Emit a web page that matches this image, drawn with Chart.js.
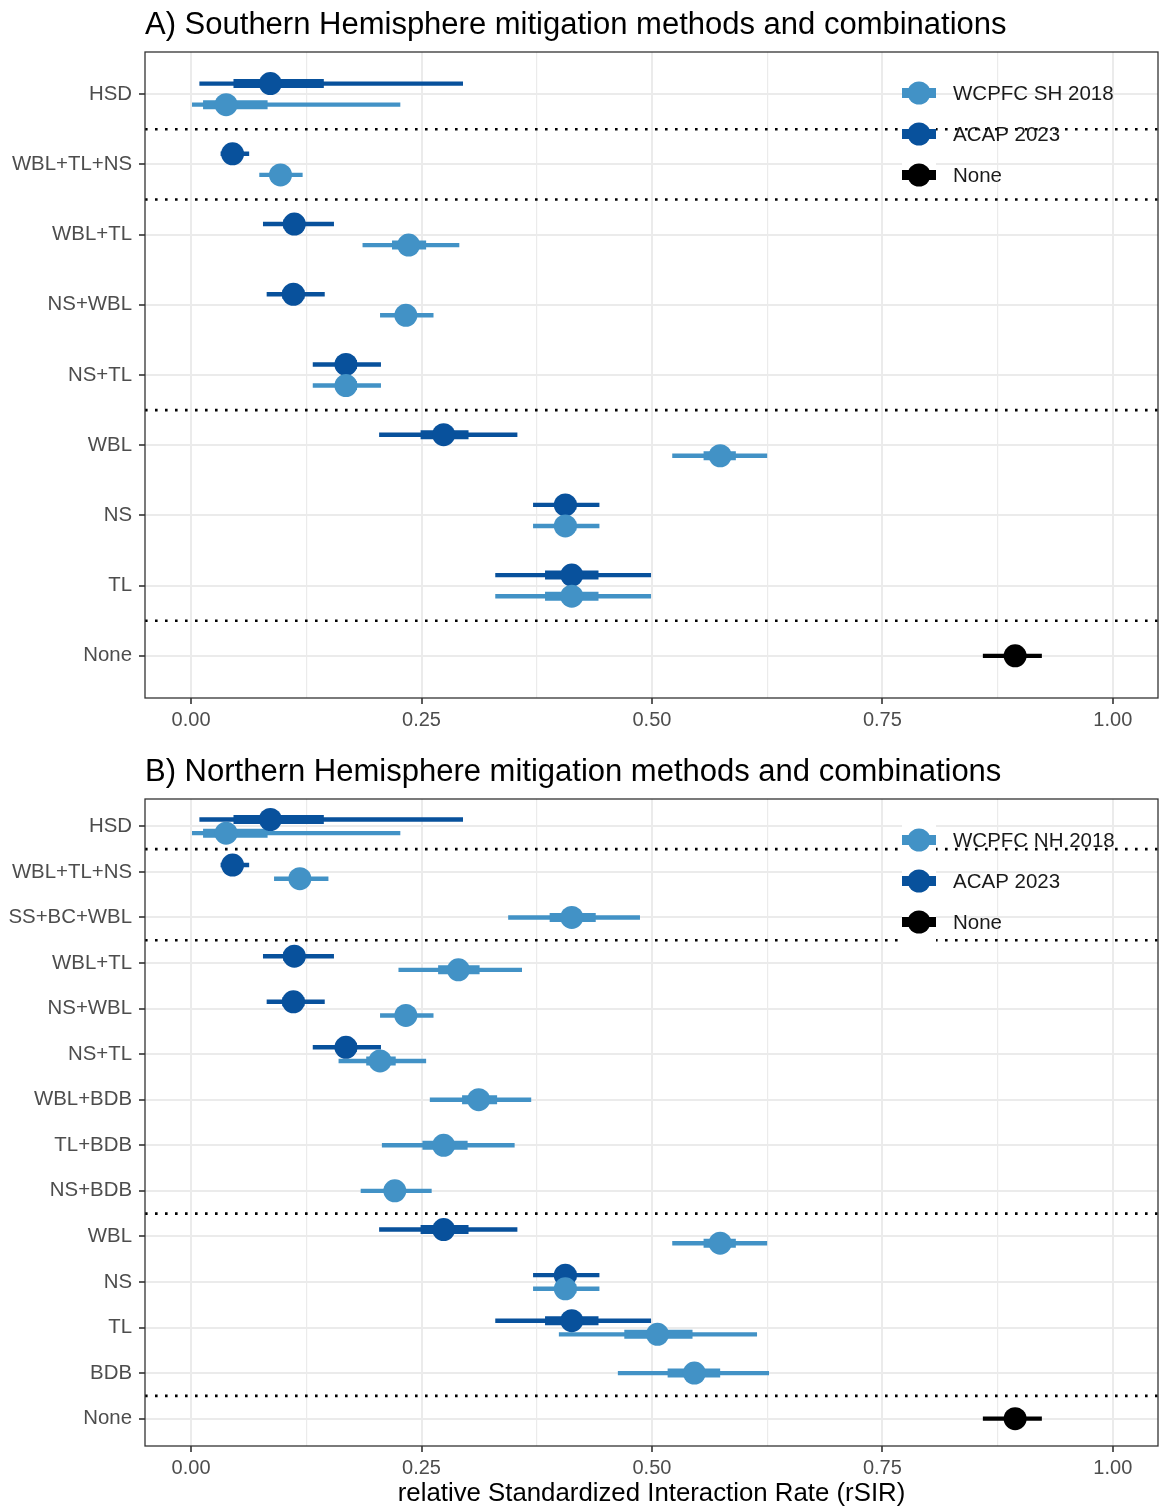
<!DOCTYPE html>
<html>
<head>
<meta charset="utf-8">
<script src="https://cdn.jsdelivr.net/npm/chart.js@4.4.1/dist/chart.umd.min.js"></script>
<style>
  html, body { margin: 0; padding: 0; background: #ffffff; }
  #wrap { position: relative; width: 1159px; height: 1508px; }
  canvas { position: absolute; left: 0; }
  #sh { top: 0; }
  #nh { top: 745px; }
</style>
</head>
<body>
<div id="wrap">
  <canvas id="sh" width="1159" height="745"></canvas>
  <canvas id="nh" width="1159" height="763"></canvas>
</div>
<script>
// ---- Categories, top to bottom ----
const shCategories = ['HSD', 'WBL+TL+NS', 'WBL+TL', 'NS+WBL', 'NS+TL', 'WBL', 'NS', 'TL', 'None'];
const nhCategories = ['HSD', 'WBL+TL+NS', 'SS+BC+WBL', 'WBL+TL', 'NS+WBL', 'NS+TL', 'WBL+BDB',
                      'TL+BDB', 'NS+BDB', 'WBL', 'NS', 'TL', 'BDB', 'None'];

// ---- rSIR per category: [estimate, lower 95%, upper 95%, lower 50%, upper 50%] (null = not assessed) ----
const acapSH = [
  [0.086, 0.009, 0.295, 0.046, 0.144],
  [0.045, 0.032, 0.063, 0.036, 0.055],
  [0.112, 0.078, 0.155, 0.100, 0.123],
  [0.111, 0.082, 0.145, 0.099, 0.123],
  [0.168, 0.132, 0.206, 0.157, 0.180],
  [0.274, 0.204, 0.354, 0.249, 0.301],
  [0.406, 0.371, 0.443, 0.395, 0.418],
  [0.413, 0.330, 0.499, 0.384, 0.442],
  null
];
const wcpfcSH = [
  [0.038, 0.001, 0.227, 0.013, 0.083],
  [0.097, 0.074, 0.121, 0.086, 0.107],
  [0.236, 0.186, 0.291, 0.218, 0.255],
  [0.233, 0.205, 0.263, 0.223, 0.244],
  [0.168, 0.132, 0.206, 0.157, 0.180],
  [0.574, 0.522, 0.625, 0.556, 0.591],
  [0.406, 0.371, 0.443, 0.395, 0.418],
  [0.413, 0.330, 0.499, 0.384, 0.442],
  null
];
const noneSH = [null, null, null, null, null, null, null, null, [0.894, 0.859, 0.923, 0.883, 0.905]];

const acapNH = [
  [0.086, 0.009, 0.295, 0.046, 0.144],
  [0.045, 0.032, 0.063, 0.036, 0.055],
  null,
  [0.112, 0.078, 0.155, 0.100, 0.123],
  [0.111, 0.082, 0.145, 0.099, 0.123],
  [0.168, 0.132, 0.206, 0.157, 0.180],
  null, null, null,
  [0.274, 0.204, 0.354, 0.249, 0.301],
  [0.406, 0.371, 0.443, 0.395, 0.418],
  [0.413, 0.330, 0.499, 0.384, 0.442],
  null, null
];
const wcpfcNH = [
  [0.038, 0.001, 0.227, 0.013, 0.083],
  [0.118, 0.090, 0.149, 0.107, 0.129],
  [0.413, 0.344, 0.487, 0.389, 0.439],
  [0.290, 0.225, 0.359, 0.268, 0.313],
  [0.233, 0.205, 0.263, 0.223, 0.244],
  [0.205, 0.160, 0.255, 0.190, 0.222],
  [0.312, 0.259, 0.369, 0.294, 0.332],
  [0.274, 0.207, 0.351, 0.251, 0.300],
  [0.221, 0.184, 0.261, 0.210, 0.232],
  [0.574, 0.522, 0.625, 0.556, 0.591],
  [0.406, 0.371, 0.443, 0.395, 0.418],
  [0.506, 0.399, 0.614, 0.470, 0.544],
  [0.546, 0.463, 0.627, 0.517, 0.574],
  null
];
const noneNH = [null, null, null, null, null, null, null, null, null, null, null, null, null,
                [0.894, 0.859, 0.923, 0.883, 0.905]];

// ---- group separators (between category positions) ----
const shSeparators = [1.5, 2.5, 5.5, 8.5];
const nhSeparators = [1.5, 3.5, 9.5, 13.5];

// ---- x axis ----
const xLimits = [-0.05, 1.049];
const xMajorTicks = [0, 0.25, 0.5, 0.75, 1];
const xMajorLabels = ['0.00', '0.25', '0.50', '0.75', '1.00'];
const xMinorTicks = [0.125, 0.375, 0.625, 0.875];

const COL_WCPFC = '#4292c6';
const COL_ACAP = '#08519c';
const COL_NONE = '#000000';

Chart.defaults.font.family = '"Liberation Sans", Arial, sans-serif';

const gap = () => ({ x: NaN, y: NaN });

function buildDatasets(seriesList, separators) {
  const out = [];
  const dodgers = seriesList.filter(s => s.dodge);
  seriesList.forEach(s => {
    const pts = [], thin = [], thick = [];
    s.rows.forEach((r, i) => {
      if (!r) return;
      let y = i + 1;
      if (s.dodge && dodgers.filter(d => d.rows[i]).length > 1) y += s.dodge;
      pts.push({ x: r[0], y });
      thin.push({ x: r[1], y }, { x: r[2], y }, gap());
      thick.push({ x: r[3], y }, { x: r[4], y }, gap());
    });
    out.push({ label: s.name, data: pts, showLine: false, pointRadius: 11.5, pointHoverRadius: 11.5,
      pointBackgroundColor: s.color, pointBorderWidth: 0, order: s.z });
    out.push({ label: s.name + ' 50%', data: thick, showLine: true, spanGaps: false, pointRadius: 0,
      borderColor: s.color, borderWidth: 9, borderCapStyle: 'butt', order: 10 + s.z });
    out.push({ label: s.name + ' 95%', data: thin, showLine: true, spanGaps: false, pointRadius: 0,
      borderColor: s.color, borderWidth: 4.4, borderCapStyle: 'butt', order: 20 + s.z });
  });
  const sepData = [];
  separators.forEach(v => sepData.push({ x: xLimits[0], y: v }, { x: xLimits[1], y: v }, gap()));
  out.push({ label: 'separators', data: sepData, showLine: true, spanGaps: false, pointRadius: 0,
    borderColor: '#000000', borderWidth: 2.6, borderDash: [2.6, 7.4], borderCapStyle: 'butt', order: 40 });
  return out;
}

// panel border, panel title, axis title and in-panel legend
const panelDecor = {
  id: 'panelDecor',
  afterDraw(chart, args, o) {
    const { ctx, chartArea: a } = chart;
    ctx.save();
    ctx.strokeStyle = '#333333';
    ctx.lineWidth = 1.3;
    ctx.strokeRect(a.left, a.top, a.right - a.left, a.bottom - a.top);

    ctx.fillStyle = '#000000';
    ctx.textAlign = 'left';
    ctx.textBaseline = 'alphabetic';
    ctx.font = '31px "Liberation Sans", Arial, sans-serif';
    ctx.fillText(o.title, a.left, a.top - 18);

    if (o.xTitle) {
      ctx.textAlign = 'center';
      ctx.textBaseline = 'middle';
      ctx.font = '25.8px "Liberation Sans", Arial, sans-serif';
      ctx.fillText(o.xTitle, (a.left + a.right) / 2, a.bottom + 48);
    }

    const kx = a.left + 774, tx = a.left + 808;
    o.legend.forEach((it, k) => {
      const cy = a.top + 41 + k * 41;
      ctx.fillStyle = '#ffffff';
      ctx.fillRect(kx - 17, cy - 20.5, 34, 41);
      ctx.fillStyle = it.color;
      ctx.fillRect(kx - 17, cy - 5, 34, 10);
      ctx.beginPath();
      ctx.arc(kx, cy, 11.5, 0, Math.PI * 2);
      ctx.fill();
      ctx.fillStyle = '#1a1a1a';
      ctx.textAlign = 'left';
      ctx.textBaseline = 'middle';
      ctx.font = '20.5px "Liberation Sans", Arial, sans-serif';
      ctx.fillText(it.text, tx, cy + 1);
    });
    ctx.restore();
  }
};

function makePanel(canvasId, cats, seriesList, separators, topPad, xAxisHeight, title, xTitle) {
  const legendItems = seriesList.map(s => ({ text: s.name, color: s.color }));
  return new Chart(document.getElementById(canvasId), {
    type: 'scatter',
    data: { datasets: buildDatasets(seriesList, separators) },
    plugins: [panelDecor],
    options: {
      responsive: false,
      animation: false,
      devicePixelRatio: 1,
      events: [],
      layout: { padding: { top: topPad, right: 1, left: 0, bottom: 0 }, autoPadding: false },
      plugins: {
        legend: { display: false },
        tooltip: { enabled: false },
        panelDecor: { title, xTitle, legend: legendItems }
      },
      scales: {
        x: {
          type: 'linear', min: xLimits[0], max: xLimits[1], bounds: 'data',
          afterBuildTicks: sc => {
            sc.ticks = xMajorTicks.concat(xMinorTicks).sort((p, q) => p - q).map(v => ({ value: v }));
          },
          afterFit: sc => { sc.height = xAxisHeight; },
          ticks: {
            callback: v => { const k = xMajorTicks.indexOf(v); return k >= 0 ? xMajorLabels[k] : ''; },
            color: '#4d4d4d', font: { size: 20 }, padding: 4, maxRotation: 0, autoSkip: false
          },
          grid: {
            color: '#ebebeb',
            lineWidth: c => (c.tick && xMajorTicks.includes(c.tick.value)) ? 2 : 1.2,
            tickColor: c => (c.tick && xMajorTicks.includes(c.tick.value)) ? '#333333' : 'rgba(0,0,0,0)',
            tickLength: 6, tickWidth: 1.6
          },
          border: { display: false }
        },
        y: {
          type: 'linear', reverse: true, min: 0.4, max: cats.length + 0.6, bounds: 'data',
          afterBuildTicks: sc => { sc.ticks = cats.map((c, i) => ({ value: i + 1 })); },
          afterFit: sc => { sc.width = 145; },
          ticks: {
            callback: v => cats[Math.round(v) - 1],
            color: '#4d4d4d', font: { size: 20.4 }, padding: 7, autoSkip: false
          },
          grid: { color: '#ebebeb', lineWidth: 2, tickColor: '#333333', tickLength: 6, tickWidth: 1.6 },
          border: { display: false }
        }
      }
    }
  });
}

makePanel('sh', shCategories, [
  { name: 'WCPFC SH 2018', rows: wcpfcSH, color: COL_WCPFC, dodge: 0.15, z: 0 },
  { name: 'ACAP 2023', rows: acapSH, color: COL_ACAP, dodge: -0.15, z: 1 },
  { name: 'None', rows: noneSH, color: COL_NONE, dodge: 0, z: 0 }
], shSeparators, 52, 47, 'A) Southern Hemisphere mitigation methods and combinations', null);

makePanel('nh', nhCategories, [
  { name: 'WCPFC NH 2018', rows: wcpfcNH, color: COL_WCPFC, dodge: 0.15, z: 0 },
  { name: 'ACAP 2023', rows: acapNH, color: COL_ACAP, dodge: -0.15, z: 1 },
  { name: 'None', rows: noneNH, color: COL_NONE, dodge: 0, z: 0 }
], nhSeparators, 54, 62, 'B) Northern Hemisphere mitigation methods and combinations',
   'relative Standardized Interaction Rate (rSIR)');
</script>
</body>
</html>
